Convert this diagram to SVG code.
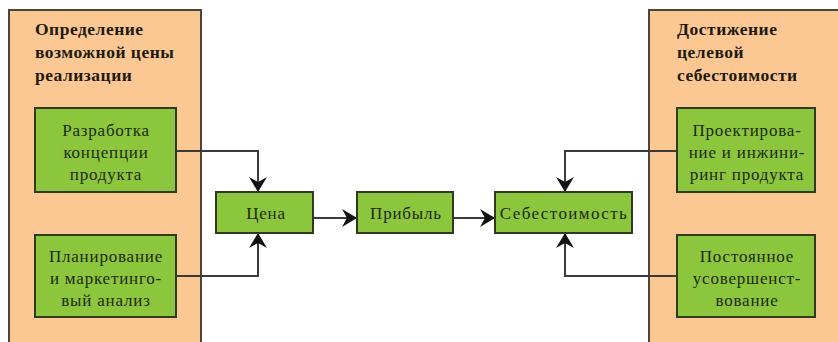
<svg xmlns="http://www.w3.org/2000/svg" width="838" height="342" viewBox="0 0 838 342">
<defs>
<style>
.panel{fill:#fbc894;stroke:#4d4538;stroke-width:2}
.box{fill:#8cc63c;stroke:#2f3a1e;stroke-width:2}
.title{font-size:17.5px;font-weight:bold;fill:#1f1a10;letter-spacing:0.5px}
.t{font-size:17px;fill:#1c2a10;text-anchor:middle;letter-spacing:0.8px}
.c{fill:none;stroke:#3a3a3a;stroke-width:2}
</style>
<marker id="ah" viewBox="0 0 15 18" refX="14" refY="9" markerWidth="15" markerHeight="18" markerUnits="userSpaceOnUse" orient="auto">
<path d="M0,0 L15,9 L0,18 L5,9 Z" fill="#111"/>
</marker>
</defs>
<rect width="838" height="342" fill="#fff"/>
<g font-family="Liberation Serif, Times New Roman, serif">
<g id="panel-left">
<rect class="panel" x="9" y="10" width="192" height="340"/>
<text class="title" x="35" y="35">Определение</text>
<text class="title" x="35" y="58">возможной цены</text>
<text class="title" x="35" y="81">реализации</text>
</g>
<g id="panel-right">
<rect class="panel" x="649" y="10" width="200" height="340"/>
<text class="title" x="677" y="35">Достижение</text>
<text class="title" x="677" y="58">целевой</text>
<text class="title" x="677" y="81">себестоимости</text>
</g>
<g id="connectors">
<path class="c" d="M176,151 H258 V191" marker-end="url(#ah)"/>
<path class="c" d="M176,276 H258 V234" marker-end="url(#ah)"/>
<path class="c" d="M677,151 H565 V191" marker-end="url(#ah)"/>
<path class="c" d="M677,276 H565 V234" marker-end="url(#ah)"/>
<path class="c" d="M314,218 H356" marker-end="url(#ah)"/>
<path class="c" d="M453,218 H494" marker-end="url(#ah)"/>
</g>
<g id="n-razrabotka">
<rect class="box" x="35" y="108" width="141" height="84"/>
<text class="t" x="106" y="136">Разработка</text>
<text class="t" x="106" y="158">концепции</text>
<text class="t" x="106" y="180">продукта</text>
</g>
<g id="n-planirovanie">
<rect class="box" x="35" y="235" width="141" height="82"/>
<text class="t" x="106" y="262">Планирование</text>
<text class="t" x="106" y="284">и маркетинго-</text>
<text class="t" x="106" y="306">вый анализ</text>
</g>
<g id="n-cena">
<rect class="box" x="216" y="192" width="97" height="41"/>
<text class="t" x="266" y="219">Цена</text>
</g>
<g id="n-pribyl">
<rect class="box" x="357" y="192" width="96" height="41"/>
<text class="t" x="406" y="219">Прибыль</text>
</g>
<g id="n-sebestoimost">
<rect class="box" x="495" y="192" width="137" height="41"/>
<text class="t" x="564" y="219" style="letter-spacing:1.4px">Себестоимость</text>
</g>
<g id="n-proektirovanie">
<rect class="box" x="677" y="108" width="138" height="84"/>
<text class="t" x="747" y="136">Проектирова-</text>
<text class="t" x="747" y="158">ние и инжини-</text>
<text class="t" x="747" y="180">ринг продукта</text>
</g>
<g id="n-postoyannoe">
<rect class="box" x="677" y="235" width="138" height="82"/>
<text class="t" x="747" y="262">Постоянное</text>
<text class="t" x="747" y="284">усовершенст-</text>
<text class="t" x="747" y="306">вование</text>
</g>
</g>
</svg>
